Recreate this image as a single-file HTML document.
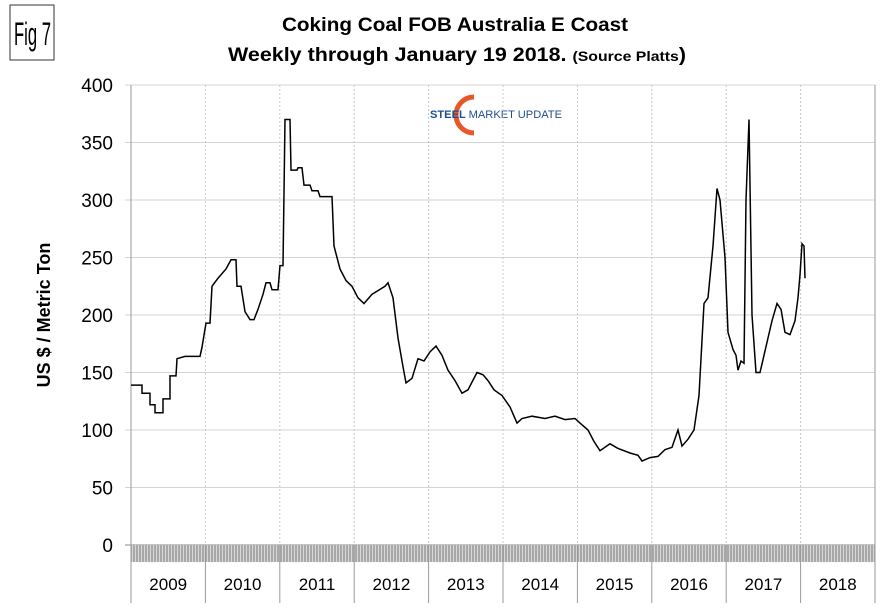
<!DOCTYPE html>
<html><head><meta charset="utf-8"><style>
body{margin:0;background:#fff;width:883px;height:607px;overflow:hidden;font-family:"Liberation Sans",Arial,sans-serif}
</style></head><body>
<svg width="883" height="607" xmlns="http://www.w3.org/2000/svg">
<defs><pattern id="tk" width="3" height="20" patternUnits="userSpaceOnUse"><rect width="3" height="20" fill="#a8a8a8"/><rect width="1" height="20" fill="#d8d8d8"/></pattern></defs>
<rect x="10" y="5" width="44" height="55" fill="#fff" stroke="#333" stroke-width="1"/>
<text x="14" y="45" font-size="32" textLength="37" lengthAdjust="spacingAndGlyphs">Fig 7</text>
<text x="282" y="31" font-size="19" font-weight="bold" textLength="346" lengthAdjust="spacingAndGlyphs">Coking Coal FOB Australia E Coast</text>
<text x="228" y="61" font-size="19" font-weight="bold" textLength="458" lengthAdjust="spacingAndGlyphs">Weekly through January 19 2018. <tspan font-size="14">(Source Platts</tspan>)</text>
<text transform="translate(50,315) rotate(-90)" text-anchor="middle" font-size="18" font-weight="bold">US $ / Metric Ton</text>
<g>
<path d="M474,97 A18,18 0 1,0 474,133" fill="none" stroke="#e8562a" stroke-width="5"/>
<text x="430" y="118" font-size="11" font-weight="bold" fill="#1f4e8c" textLength="132" lengthAdjust="spacingAndGlyphs">STEEL <tspan font-weight="normal">MARKET UPDATE</tspan></text>
</g>
<g id="grid"></g><g id="axes"></g>
<path id="line" fill="none" stroke="#000" stroke-width="1.5"/>
</svg>
<script>
const yearLabels=["2009","2010","2011","2012","2013","2014","2015","2016","2017","2018"];
const yTicks=[0,50,100,150,200,250,300,350,400];
const tYears=[0,0.148,0.148,0.255,0.255,0.323,0.323,0.43,0.43,0.524,0.524,0.605,0.618,0.726,0.927,0.954,1.008,1.062,1.089,1.169,1.277,1.344,1.411,1.425,1.478,1.532,1.599,1.653,1.707,1.774,1.815,1.868,1.895,1.976,2.003,2.043,2.07,2.137,2.151,2.231,2.245,2.298,2.325,2.406,2.433,2.513,2.54,2.702,2.728,2.809,2.89,2.97,3.051,3.132,3.239,3.414,3.454,3.522,3.589,3.656,3.696,3.777,3.858,3.938,4.019,4.099,4.18,4.261,4.355,4.449,4.53,4.651,4.731,4.798,4.879,4.987,5.094,5.188,5.255,5.39,5.565,5.699,5.833,5.968,6.035,6.142,6.223,6.304,6.438,6.546,6.707,6.815,6.868,6.976,7.083,7.177,7.271,7.352,7.406,7.487,7.567,7.634,7.702,7.755,7.823,7.876,7.917,7.984,8.024,8.091,8.132,8.159,8.199,8.239,8.266,8.306,8.347,8.401,8.454,8.508,8.562,8.616,8.683,8.737,8.79,8.858,8.925,8.965,8.992,9.019,9.046,9.059];
const prices=[139,139,132,132,122,122,115,115,127,127,147,147,162,164,164,172,193,193,225,232,240,248,248,225,225,203,196,196,205,218,228,228,222,222,243,243,370,370,326,326,328,328,313,313,308,308,303,303,260,240,230,225,215,210,218,225,228,215,180,155,141,145,162,160,168,173,165,152,143,132,135,150,148,143,135,130,120,106,110,112,110,112,109,110,106,100,90,82,88,84,80,78,73,76,77,83,85,100,86,92,100,130,210,215,260,310,300,250,185,170,165,152,160,158,300,370,200,150,150,165,180,195,210,205,185,183,195,215,235,262,260,232];
const X0=131,X1=875,Y0=545,Y1=85;
const xs=t=>X0+t*(X1-X0)/10, ys=v=>Y0-v*(Y0-Y1)/400;
const ns="http://www.w3.org/2000/svg";
const grid=document.getElementById('grid'),axes=document.getElementById('axes');
function mk(tag,at,parent){const e=document.createElementNS(ns,tag);for(const k in at)e.setAttribute(k,at[k]);parent.appendChild(e);return e;}
yTicks.forEach(v=>{
 const l=mk('line',{x1:X0-6,x2:X1,y1:ys(v),y2:ys(v),stroke:v===0?'#888':'#d4d4d4'},grid);
 
 
 const t=mk('text',{x:113,y:ys(v)+7,'text-anchor':'end','font-size':'19'},axes);
 t.textContent=v;
 
 
});
const band=mk('rect',{x:X0,y:Y0,width:X1-X0,height:17,fill:'url(#tk)'},axes);


for(let i=0;i<=10;i++){
 const x=xs(i);
 if(i>0&&i<10){const g=mk('line',{x1:x,x2:x,y1:Y1,y2:Y0,stroke:'#c8c8c8','stroke-dasharray':'2,2'},grid);
 
 }
 const s=mk('line',{x1:x,x2:x,y1:Y0,y2:603,stroke:'#999'},axes);
 
 
}
mk('line',{x1:X0,x2:X0,y1:Y1,y2:Y0,stroke:'#999'},axes);
mk('line',{x1:X1,x2:X1,y1:Y1,y2:Y0,stroke:'#999'},axes);
yearLabels.forEach((y,i)=>{
 const t=mk('text',{x:xs(i+0.5),y:590,'text-anchor':'middle','font-size':'17'},axes);
 t.textContent=y;
 
 
});
document.getElementById('line').setAttribute('d',tYears.map((t,i)=>(i?'L':'M')+xs(t).toFixed(1)+','+ys(prices[i]).toFixed(1)).join(''));
</script>
</body></html>
